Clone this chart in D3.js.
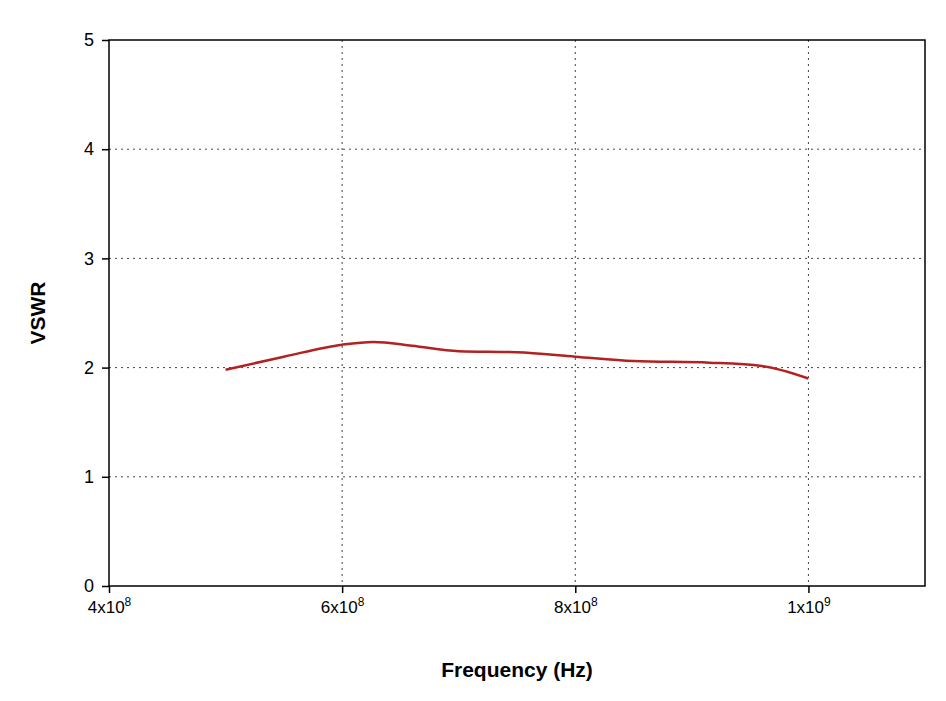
<!DOCTYPE html>
<html><head><meta charset="utf-8">
<script src="https://cdn.jsdelivr.net/npm/d3@7"></script>
<style>body{margin:0;background:#fff;font-family:Arial,"Liberation Sans",sans-serif;}</style>
</head><body><div id="chart"></div>
<script>
var freq = [5.0e8, 5.5e8, 6.0e8, 6.27e8, 6.6e8, 7.0e8, 7.5e8, 8.0e8, 8.5e8, 9.15e8, 9.6e8, 1.0e9];
var vswr = [1.98, 2.10, 2.21, 2.235, 2.20, 2.15, 2.14, 2.10, 2.06, 2.045, 2.015, 1.90];
var xTicks = [4e8, 6e8, 8e8, 1e9];
var xTickLabels = [["4x10", "8"], ["6x10", "8"], ["8x10", "8"], ["1x10", "9"]];
var yTicks = [0, 1, 2, 3, 4, 5];

var svgwidth = 946, svgheight = 701;
var margin = {top: 40, right: 21, bottom: 115, left: 109},
    width = svgwidth - margin.left - margin.right,
    height = svgheight - margin.top - margin.bottom;

var svg = d3.select("#chart").append("svg")
    .attr("width", svgwidth).attr("height", svgheight)
  .append("g")
    .attr("transform", "translate(" + margin.left + "," + margin.top + ")");

var x = d3.scaleLinear().domain([4e8, 1.1e9]).range([0, width]);
var y = d3.scaleLinear().domain([0, 5]).range([height, 0]);

// grid
svg.selectAll("vgrid").data(xTicks.slice(1)).enter().append("line")
    .attr("x1", d => x(d)).attr("x2", d => x(d)).attr("y1", 0).attr("y2", height)
    .attr("stroke", "#444").attr("stroke-dasharray", "2,4").attr("stroke-width", 1);
svg.selectAll("hgrid").data(yTicks.slice(1, 5)).enter().append("line")
    .attr("x1", 0).attr("x2", width).attr("y1", d => y(d)).attr("y2", d => y(d))
    .attr("stroke", "#444").attr("stroke-dasharray", "2,4").attr("stroke-width", 1);

// frame
svg.append("rect").attr("width", width).attr("height", height)
    .attr("fill", "none").attr("stroke", "#000").attr("stroke-width", 1.5);

var xAxis = svg.append("g").attr("transform", "translate(0," + height + ")")
    .call(d3.axisBottom(x).tickValues(xTicks).tickSize(7).tickFormat(""));
xAxis.select(".domain").remove();
xAxis.selectAll("line").attr("stroke-width", 1.5);
xAxis.selectAll(".tick").append("text")
    .attr("y", 27).attr("fill", "#000").attr("text-anchor", "middle")
    .attr("font-size", 17)
    .each(function(d, i) {
        var t = d3.select(this);
        t.append("tspan").text(xTickLabels[i][0]);
        t.append("tspan").attr("dy", -7).attr("font-size", 12).text(xTickLabels[i][1]);
    });

var yAxis = svg.append("g")
    .call(d3.axisLeft(y).tickValues(yTicks).tickSize(7).tickPadding(8).tickFormat(d3.format("d")));
yAxis.select(".domain").remove();
yAxis.selectAll("line").attr("stroke-width", 1.5);
yAxis.selectAll("text").attr("font-size", 18).attr("fill", "#000");

var line = d3.line().x((d, i) => x(freq[i])).y(d => y(d)).curve(d3.curveMonotoneX);
svg.append("path").datum(vswr).attr("d", line)
    .attr("fill", "none").attr("stroke", "#b22222").attr("stroke-width", 2.5);

svg.append("text").attr("x", width / 2).attr("y", height + 91)
    .attr("text-anchor", "middle").style("font-size", "21px").style("font-weight", "bold")
    .text("Frequency (Hz)");
svg.append("text").attr("transform", "rotate(-90)")
    .attr("x", -height / 2).attr("y", -64)
    .attr("text-anchor", "middle").style("font-size", "21px").style("font-weight", "bold")
    .text("VSWR");
</script></body></html>
